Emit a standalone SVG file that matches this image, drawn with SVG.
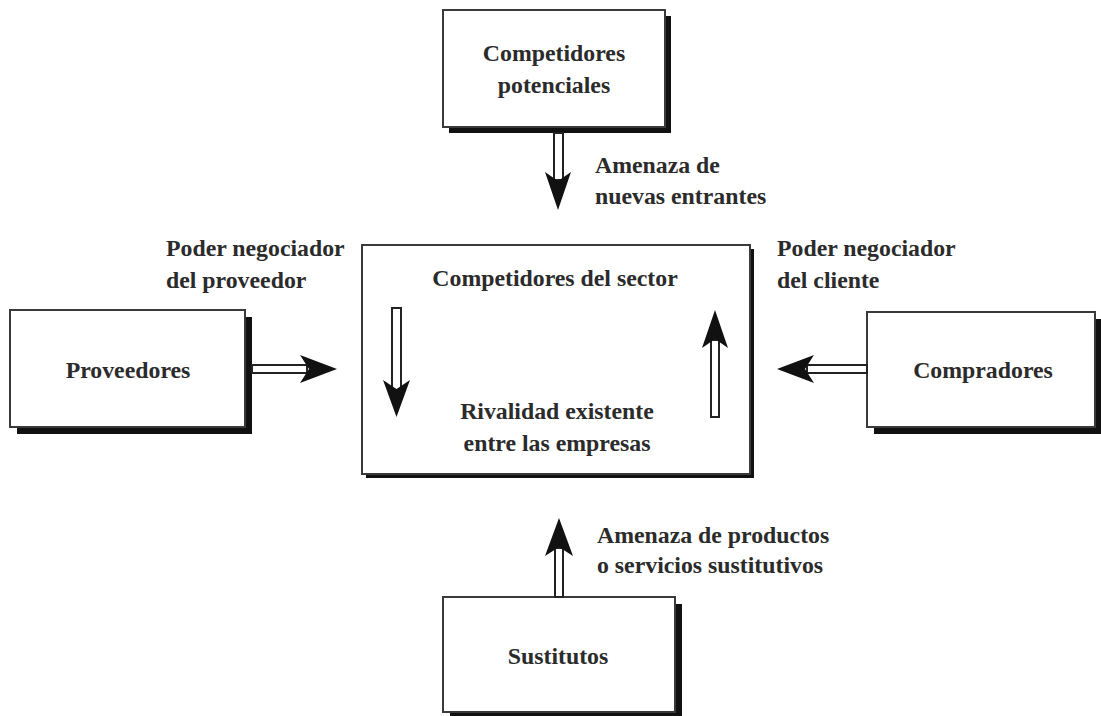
<svg xmlns="http://www.w3.org/2000/svg" width="1101" height="716" viewBox="0 0 1101 716">
<style>
.box{fill:#fff;stroke:#3a3a3a;stroke-width:2}
.sh{fill:#111}
.t{font-family:"Liberation Serif",serif;font-weight:bold;font-size:23.8px;fill:#2b2b2b}
.c{text-anchor:middle}
.shaft{fill:#fff;stroke:#222;stroke-width:2}
.head{fill:#111}
</style>
<g id="competidores-potenciales">
<rect class="sh" x="449" y="16" width="222" height="117"/>
<rect class="box" x="443" y="10" width="222" height="117"/>
<text class="t c" x="554" y="61">Competidores</text>
<text class="t c" x="554" y="93">potenciales</text>
</g>
<g id="proveedores">
<rect class="sh" x="17" y="317" width="235" height="117"/>
<rect class="box" x="10" y="310" width="235" height="117"/>
<text class="t c" x="128" y="378">Proveedores</text>
</g>
<g id="competidores-sector">
<rect class="sh" x="366" y="249" width="388" height="229"/>
<rect class="box" x="362" y="245" width="388" height="229"/>
<text class="t c" x="555" y="286">Competidores del sector</text>
<text class="t c" x="557" y="419">Rivalidad existente</text>
<text class="t c" x="557" y="451">entre las empresas</text>
</g>
<g id="compradores">
<rect class="sh" x="874" y="319" width="228" height="115"/>
<rect class="box" x="867" y="312" width="228" height="115"/>
<text class="t c" x="983" y="378">Compradores</text>
</g>
<g id="sustitutos">
<rect class="sh" x="450" y="604" width="232" height="115"/>
<rect class="box" x="443" y="597" width="232" height="115"/>
<text class="t c" x="558" y="664">Sustitutos</text>
</g>
<g id="labels">
<text class="t" x="595" y="173">Amenaza de</text>
<text class="t" x="595" y="204">nuevas entrantes</text>
<text class="t" x="166" y="256">Poder negociador</text>
<text class="t" x="166" y="288">del proveedor</text>
<text class="t" x="777" y="256">Poder negociador</text>
<text class="t" x="777" y="288">del cliente</text>
<text class="t" x="597" y="543">Amenaza de productos</text>
<text class="t" x="597" y="573">o servicios sustitutivos</text>
</g>
<g id="connectors">
<rect class="shaft" x="554" y="133" width="9" height="47"/>
<path class="head" d="M545,172 L558,181 L571,172 L558,210 Z"/>
<rect class="shaft" x="252" y="365" width="55" height="8"/>
<path class="head" d="M300,355 L309,369 L300,383 L337,369 Z"/>
<rect class="shaft" x="807" y="365" width="60" height="8"/>
<path class="head" d="M814,355 L805,369 L814,383 L777,369 Z"/>
<rect class="shaft" x="555" y="548" width="8" height="49"/>
<path class="head" d="M545,556 L559,547 L573,556 L559,518 Z"/>
<rect class="shaft" x="392" y="308" width="9" height="82"/>
<path class="head" d="M383,380 L396.5,389 L410,380 L396.5,417 Z"/>
<rect class="shaft" x="711" y="340" width="8" height="77"/>
<path class="head" d="M702,348 L715,339 L728,348 L715,310 Z"/>
</g>
</svg>
